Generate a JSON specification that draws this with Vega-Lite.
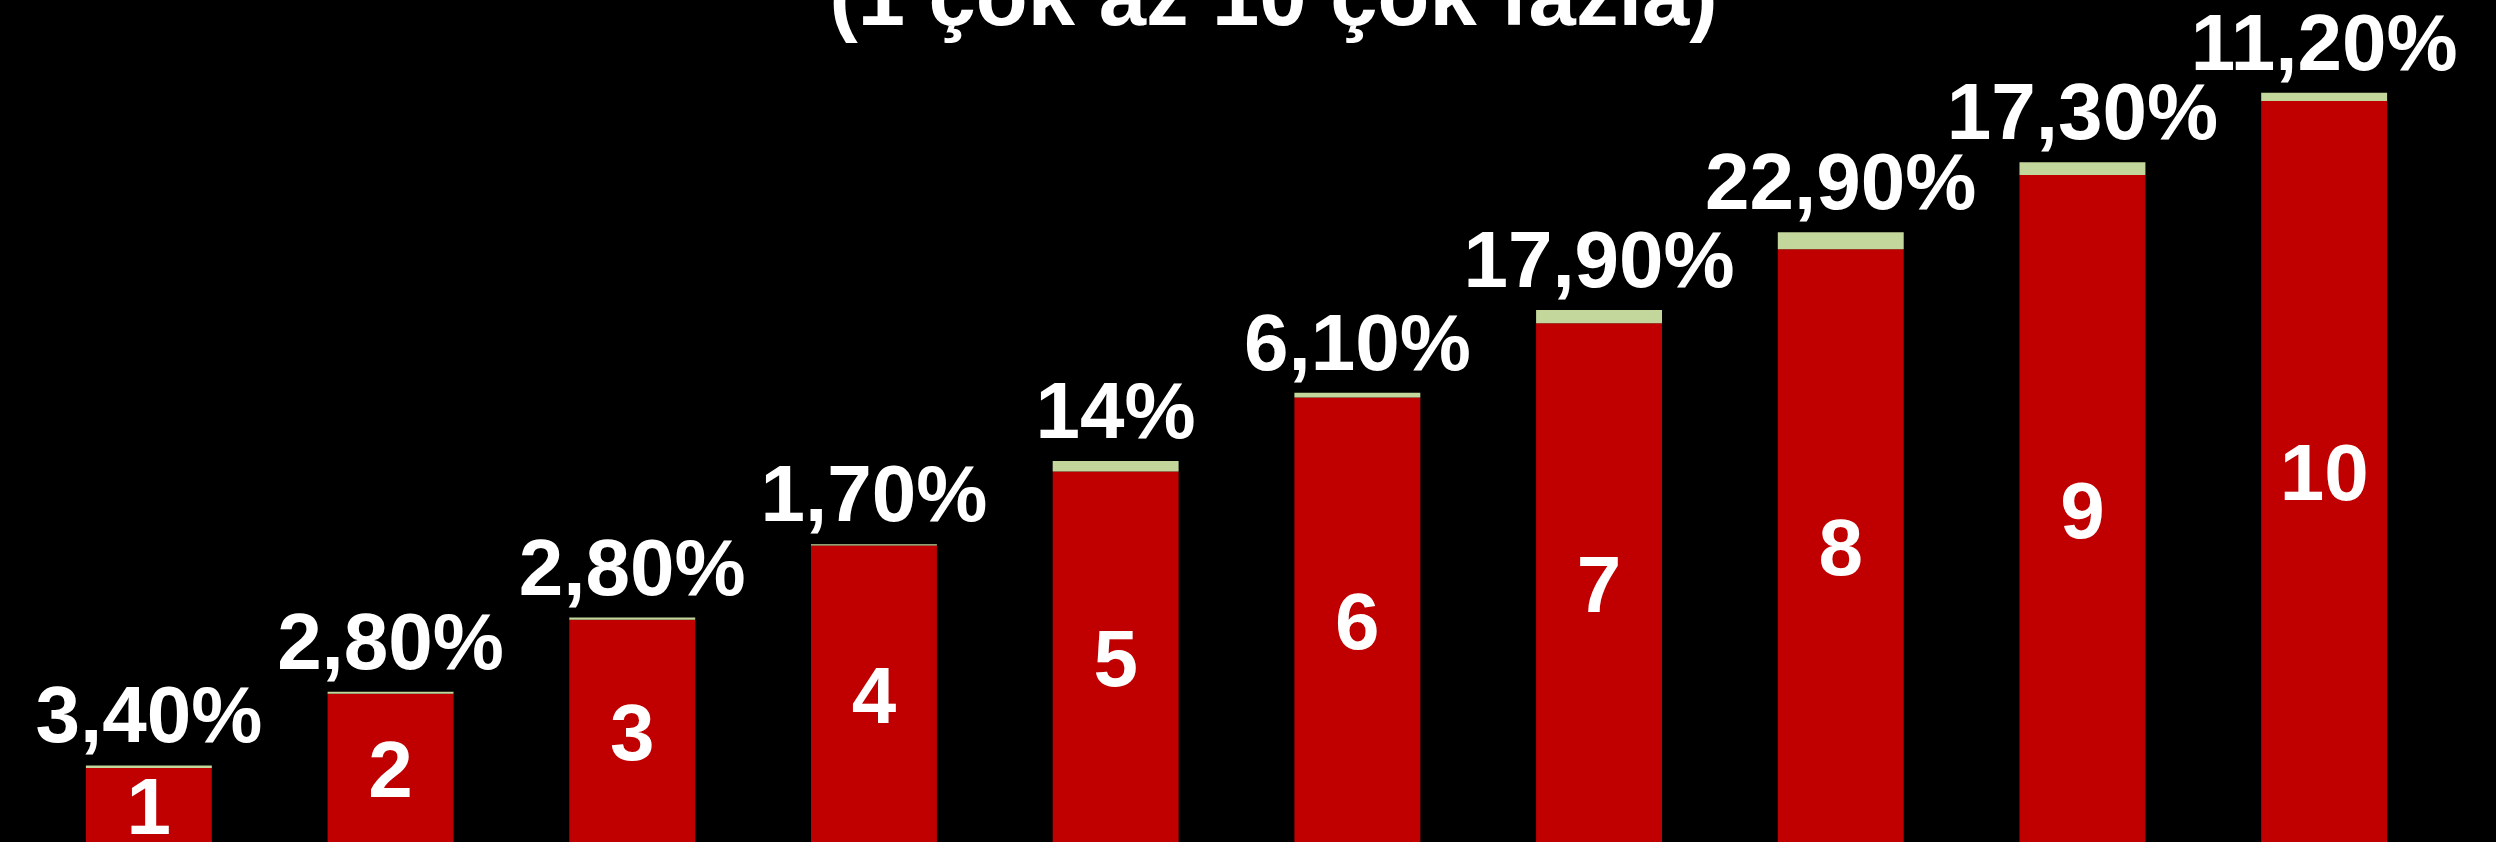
{
  "$schema": "https://vega.github.io/schema/vega-lite/v6.json",
  "autosize": {"type": "none"},
  "padding": {"left": 28, "top": 60, "right": 51, "bottom": 0},
  "width": 2417,
  "height": 782,
  "background": "#000000",
  "config": {
    "view": {"stroke": null},
    "axis": {"disable": true}
  },
  "data": {
    "values": [
      {"rating": 1, "base": 1, "cap": 0.034, "label": "3,40%"},
      {"rating": 2, "base": 2, "cap": 0.028, "label": "2,80%"},
      {"rating": 3, "base": 3, "cap": 0.028, "label": "2,80%"},
      {"rating": 4, "base": 4, "cap": 0.017, "label": "1,70%"},
      {"rating": 5, "base": 5, "cap": 0.14, "label": "14%"},
      {"rating": 6, "base": 6, "cap": 0.061, "label": "6,10%"},
      {"rating": 7, "base": 7, "cap": 0.179, "label": "17,90%"},
      {"rating": 8, "base": 8, "cap": 0.229, "label": "22,90%"},
      {"rating": 9, "base": 9, "cap": 0.173, "label": "17,30%"},
      {"rating": 10, "base": 10, "cap": 0.112, "label": "11,20%"}
    ]
  },
  "layer": [
    {
      "transform": [{"fold": ["base", "cap"], "as": ["part", "value"]}],
      "mark": {"type": "bar"},
      "encoding": {
        "x": {"field": "rating", "type": "ordinal", "axis": null,
              "scale": {"paddingInner": 0.479, "paddingOuter": 0.2395}},
        "y": {"field": "value", "type": "quantitative", "stack": "zero", "axis": null,
              "scale": {"domain": [0, 10.553], "nice": false, "zero": true}},
        "color": {"field": "part", "type": "nominal", "legend": null,
                  "scale": {"domain": ["base", "cap"], "range": ["#C00000", "#C3D69B"]}},
        "order": {"field": "part", "sort": "ascending"}
      }
    },
    {
      "transform": [
        {"fold": ["base", "cap"], "as": ["part", "value"]},
        {"stack": "value", "groupby": ["rating"], "sort": [{"field": "part", "order": "ascending"}], "as": ["v0", "v1"]},
        {"filter": "datum.part === 'cap'"}
      ],
      "mark": {"type": "text", "font": "Liberation Sans", "fontSize": 80, "fontWeight": "bold",
               "color": "#FFFFFF", "baseline": "alphabetic", "align": "center", "dy": -23},
      "encoding": {
        "x": {"field": "rating", "type": "ordinal", "axis": null,
              "scale": {"paddingInner": 0.479, "paddingOuter": 0.2395}},
        "y": {"field": "v1", "type": "quantitative", "axis": null,
              "scale": {"domain": [0, 10.553], "nice": false, "zero": true}},
        "text": {"field": "label"}
      }
    },
    {
      "mark": {"type": "text", "font": "Liberation Sans", "fontSize": 80, "fontWeight": "bold",
               "color": "#FFFFFF", "baseline": "middle", "align": "center", "dy": 5},
      "encoding": {
        "x": {"field": "rating", "type": "ordinal", "axis": null,
              "scale": {"paddingInner": 0.479, "paddingOuter": 0.2395}},
        "y": {"field": "rating", "type": "quantitative", "axis": null,
              "scale": {"domain": [0, 21.106], "nice": false, "zero": true}},
        "text": {"field": "rating", "type": "quantitative"}
      }
    },
    {
      "data": {"values": [{"heading": "(1 çok az 10 çok fazla)"}]},
      "mark": {"type": "text", "font": "Liberation Sans", "fontSize": 85, "fontWeight": "bold",
               "color": "#FFFFFF", "baseline": "alphabetic", "align": "center", "dx": 37},
      "encoding": {
        "y": {"datum": 11.03, "type": "quantitative", "axis": null,
              "scale": {"domain": [0, 10.553], "nice": false, "zero": true}},
        "text": {"field": "heading"}
      }
    }
  ],
  "resolve": {"scale": {"y": "independent"}}
}
